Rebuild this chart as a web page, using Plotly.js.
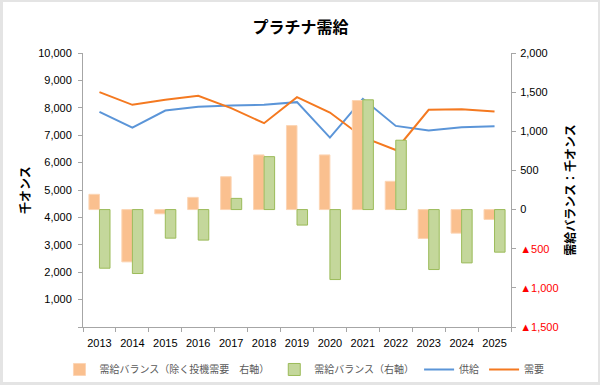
<!DOCTYPE html>
<html>
<head>
<meta charset="utf-8">
<script src="https://cdn.plot.ly/plotly-3.0.1.min.js"></script>
<style>
  html, body { margin: 0; padding: 0; background: #e4e4e4; overflow: hidden; }
  #wrap { position: absolute; left: 3px; top: 2px; width: 595px; height: 380px; background: #fff; overflow: hidden; }
  #chart { position: absolute; left: 0; top: 0; width: 595px; height: 400px; }
</style>
</head>
<body>
<div id="wrap"><div id="chart"></div></div>
<script>
const years = ['2013','2014','2015','2016','2017','2018','2019','2020','2021','2022','2023','2024','2025'];
const balanceExSpec = [195, -668, -54, 156, 420, 698, 1073, 698, 1393, 361, -369, -301, -126];
const balance = [-749, -817, -365, -390, 143, 676, -198, -894, 1402, 886, -766, -681, -544];
const supply = [7852, 7278, 7901, 8036, 8083, 8108, 8206, 6912, 8328, 7339, 7168, 7292, 7329];
const demand = [8573, 8108, 8291, 8437, 7990, 7438, 8389, 7826, 6926, 6462, 7925, 7950, 7863];
const leftTicks = [0, 1000, 2000, 3000, 4000, 5000, 6000, 7000, 8000, 9000, 10000];
const leftTickText = ['', '1,000', '2,000', '3,000', '4,000', '5,000', '6,000', '7,000', '8,000', '9,000', '10,000'];
const rightTicks = [-1500, -1000, -500, 0, 500, 1000, 1500, 2000];
const rightTickText = ['<span style="color:#ff0000">▲1,500</span>', '<span style="color:#ff0000">▲1,000</span>', '<span style="color:#ff0000">▲500</span>', '0', '500', '1,000', '1,500', '2,000'];

const font = 'Liberation Sans, Arial, Noto Sans CJK JP, sans-serif';
const jp = 'Noto Sans CJK JP, sans-serif';

const traces = [
  { type: 'bar', x: years, y: balanceExSpec, yaxis: 'y2', name: '需給バランス（除く投機需要　右軸）',
    marker: { color: '#fac08f', line: { color: '#fcd5b5', width: 1 } } },
  { type: 'bar', x: years, y: balance, yaxis: 'y2', name: '需給バランス（右軸）',
    marker: { color: '#c4d79b', line: { color: '#9bbb59', width: 1 } } },
  { type: 'scatter', mode: 'lines', x: years, y: supply, name: '供給',
    line: { color: '#5b95d8', width: 2 } },
  { type: 'scatter', mode: 'lines', x: years, y: demand, name: '需要',
    line: { color: '#f47920', width: 2 } }
];

const layout = {
  width: 595, height: 400,
  margin: { l: 80, r: 87, t: 51, b: 75 },
  paper_bgcolor: '#ffffff', plot_bgcolor: '#ffffff',
  font: { family: font, size: 11, color: '#000' },
  title: { text: 'プラチナ需給', font: { family: jp, size: 16, color: '#000', weight: 'bold' },
           x: 0.5, xanchor: 'center', y: 1 - 25 / 400, yanchor: 'middle' },
  barmode: 'group', bargap: 0.36, bargroupgap: 0,
  showlegend: true,
  legend: { orientation: 'h', x: -0.055, xanchor: 'left', y: -0.155, yanchor: 'middle', itemwidth: 30,
            font: { family: jp, size: 10, color: '#595959' }, traceorder: 'normal' },
  xaxis: { type: 'category', showgrid: false, showline: true, linecolor: '#a6a6a6', linewidth: 1,
           ticks: 'outside', tickson: 'boundaries', ticklen: 4, tickcolor: '#a6a6a6', tickangle: 0,
           ticklabelstandoff: 6,
           tickfont: { family: font, size: 11, color: '#000' }, zeroline: false },
  yaxis: { range: [0, 10000], tickvals: leftTicks, ticktext: leftTickText, showgrid: false,
           showline: true, linecolor: '#a6a6a6', linewidth: 1, ticks: 'outside', ticklen: 4,
           tickcolor: '#a6a6a6', zeroline: false, ticklabelstandoff: 4,
           tickfont: { family: font, size: 11, color: '#000' },
           title: { text: '千オンス', font: { family: jp, size: 12, color: '#000', weight: 'bold' }, standoff: 4 } },
  yaxis2: { overlaying: 'y', side: 'right', range: [-1500, 2000], tickvals: rightTicks, ticktext: rightTickText,
            showgrid: false, showline: true, linecolor: '#a6a6a6', linewidth: 1, ticks: 'outside', ticklen: 4,
            tickcolor: '#a6a6a6', zeroline: false, ticklabelstandoff: 2,
            tickfont: { family: font, size: 11, color: '#000' },
            title: { text: '需給バランス：千オンス', font: { family: jp, size: 12, color: '#000', weight: 'bold' }, standoff: 8 } }
};

Plotly.newPlot('chart', traces, layout, { displayModeBar: false, staticPlot: true });
</script>
</body>
</html>
